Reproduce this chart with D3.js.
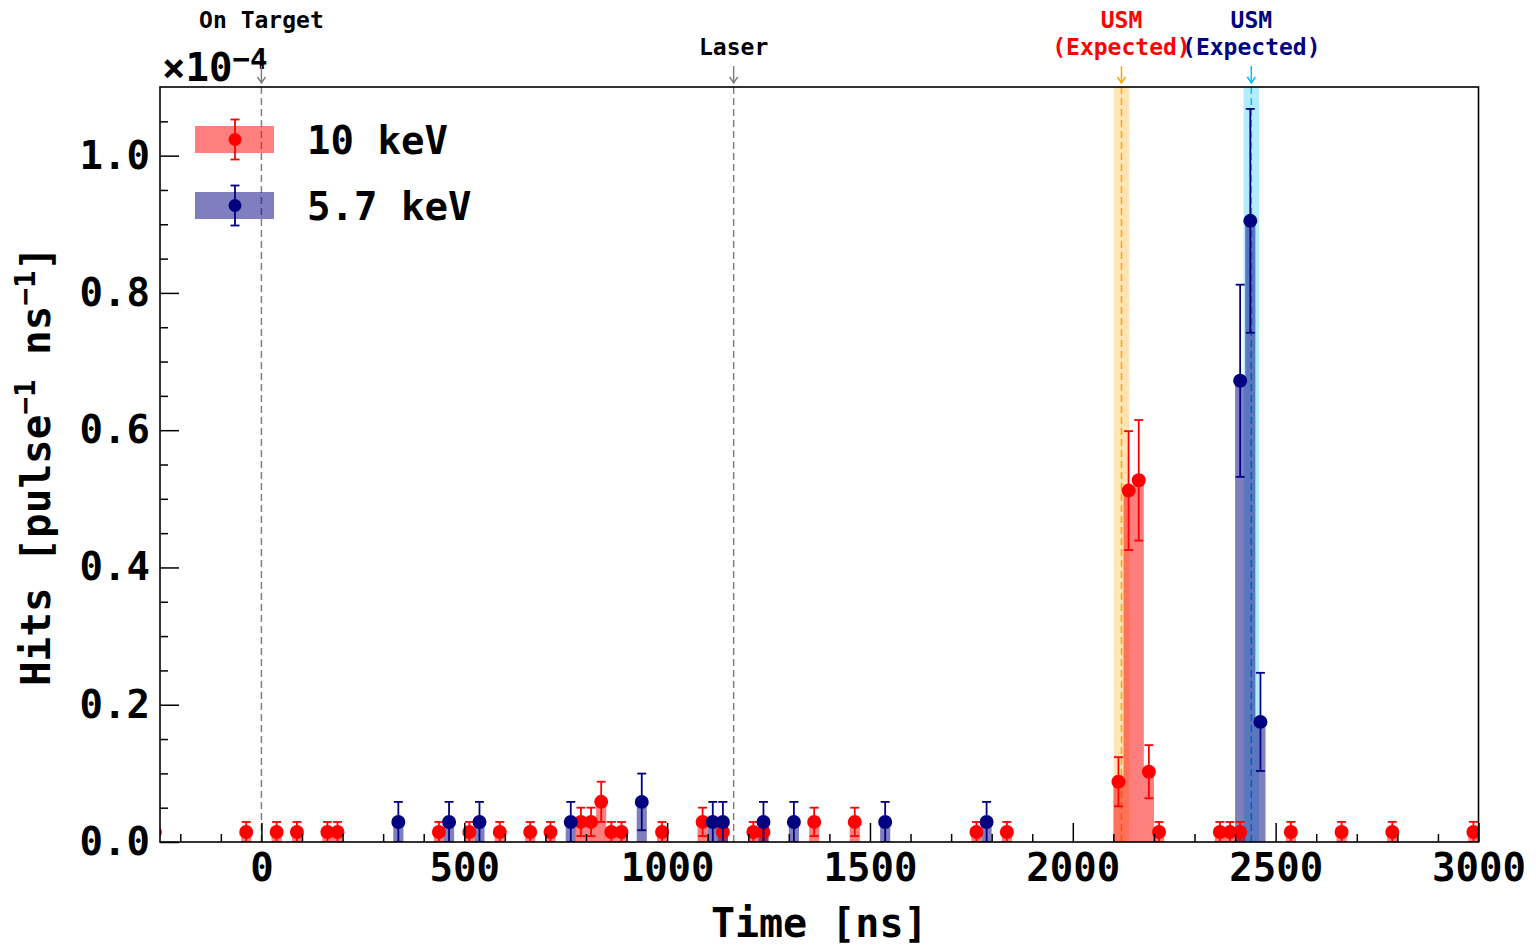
<!DOCTYPE html>
<html>
<head>
<meta charset="utf-8">
<script src="https://cdn.jsdelivr.net/npm/d3@7/dist/d3.min.js"></script>
<style>
body { margin: 0; background: #fff; }
svg { display: block; }
text { font-family: "DejaVu Sans Mono", monospace; font-weight: bold; }
</style>
</head>
<body>
<div id="chart"></div>
<script>
// bin centres [ns], rates in units of 1e-4 hits / pulse / ns
var redTimes = [-262.5, -37.5, 37.5, 87.5, 162.5, 187.5, 437.5, 512.5, 587.5, 662.5, 712.5,
    787.5, 812.5, 837.5, 862.5, 887.5, 987.5, 1087.5, 1137.5, 1212.5, 1237.5, 1362.5, 1462.5,
    1762.5, 1837.5, 2112.5, 2137.5, 2162.5, 2187.5, 2212.5, 2362.5, 2387.5, 2412.5, 2537.5,
    2662.5, 2787.5, 2987.5];
var redValues = [0.0146, 0.0146, 0.0146, 0.0146, 0.0146, 0.0146, 0.0146, 0.0146, 0.0146, 0.0146, 0.0146,
    0.0293, 0.0293, 0.0585, 0.0146, 0.0146, 0.0146, 0.0293, 0.0146, 0.0146, 0.0146, 0.0293, 0.0293,
    0.0146, 0.0146, 0.0878, 0.512, 0.527, 0.1024, 0.0146, 0.0146, 0.0146, 0.0146, 0.0146,
    0.0146, 0.0146, 0.0146];
var redErrors = [0.0146, 0.0146, 0.0146, 0.0146, 0.0146, 0.0146, 0.0146, 0.0146, 0.0146, 0.0146, 0.0146,
    0.0207, 0.0207, 0.0293, 0.0146, 0.0146, 0.0146, 0.0207, 0.0146, 0.0146, 0.0146, 0.0207, 0.0207,
    0.0146, 0.0146, 0.0358, 0.0866, 0.0878, 0.0387, 0.0146, 0.0146, 0.0146, 0.0146, 0.0146,
    0.0146, 0.0146, 0.0146];

var blueTimes = [337.5, 462.5, 537.5, 762.5, 937.5, 1112.5, 1137.5, 1237.5, 1312.5, 1537.5,
    1787.5, 2412.5, 2437.5, 2462.5];
var blueValues = [0.0292, 0.0292, 0.0292, 0.0292, 0.0584, 0.0292, 0.0292, 0.0292, 0.0292, 0.0292,
    0.0292, 0.672, 0.905, 0.175];
var blueErrors = [0.0292, 0.0292, 0.0292, 0.0292, 0.0413, 0.0292, 0.0292, 0.0292, 0.0292, 0.0292,
    0.0292, 0.140, 0.163, 0.0715];

var binWidth = 25;
var legendLabels = ['10 keV', '5.7 keV'];

var xTicks = [0, 500, 1000, 1500, 2000, 2500, 3000];
var yTicks = [0, 0.2, 0.4, 0.6, 0.8, 1.0];

// vertical reference markers above the frame
var markTimes = [0, 1164, 2120, 2440];
var markLines = [['On Target'], ['Laser'], ['USM', '(Expected)'], ['USM', '(Expected)']];
var markRows = [0, 1, 0, 0];
// expected USM windows
var bandTimes = [2120, 2440];
var bandHalf = 19;

var W = 1536, H = 945;
var margin = {left: 160, top: 87};
var width = 1318.5, height = 755;

var x = d3.scaleLinear().domain([-250, 3000]).range([0, width]);
var y = d3.scaleLinear().domain([0, 1.1]).range([height, 0]);

var svg = d3.select('#chart').append('svg')
    .attr('width', W)
    .attr('height', H);

svg.append('defs').append('clipPath').attr('id', 'clip')
    .append('rect').attr('width', width).attr('height', height);

var g = svg.append('g')
    .attr('transform', 'translate(' + margin.left + ',' + margin.top + ')');

var plot = g.append('g').attr('clip-path', 'url(#clip)');

// shaded expected windows
var bandFill = ['#ffe4b3', '#b3ecff'];
bandTimes.forEach(function (t, i) {
    plot.append('rect')
        .attr('x', x(t - bandHalf))
        .attr('width', x(t + bandHalf) - x(t - bandHalf))
        .attr('y', 0)
        .attr('height', height)
        .attr('fill', bandFill[i]);
});

// dashed marker lines
var dashColor = ['gray', 'gray', 'orange', 'deepskyblue'];
markTimes.forEach(function (t, i) {
    plot.append('line')
        .attr('x1', x(t)).attr('x2', x(t))
        .attr('y1', 0).attr('y2', height)
        .attr('stroke', dashColor[i])
        .attr('stroke-width', 1.5)
        .attr('stroke-dasharray', '7,4');
});

// histogram bars, one path per series so neighbours have no seams
function barPath(times, values) {
    var p = d3.path();
    times.forEach(function (t, i) {
        var x0 = x(t - binWidth / 2), x1 = x(t + binWidth / 2);
        p.moveTo(x0, y(0));
        p.lineTo(x0, y(values[i]));
        p.lineTo(x1, y(values[i]));
        p.lineTo(x1, y(0));
        p.closePath();
    });
    return p.toString();
}
plot.append('path').attr('d', barPath(redTimes, redValues))
    .attr('fill', 'red').attr('fill-opacity', 0.5);
plot.append('path').attr('d', barPath(blueTimes, blueValues))
    .attr('fill', 'navy').attr('fill-opacity', 0.5);

// error bars + markers
function drawPoints(times, values, errors, color) {
    var pts = plot.append('g').selectAll('g')
        .data(times.map(function (t, i) { return {t: t, v: values[i], e: errors[i]}; }))
        .join('g')
        .attr('stroke', color)
        .attr('stroke-width', 1.8);
    pts.append('line')
        .attr('x1', function (d) { return x(d.t); })
        .attr('x2', function (d) { return x(d.t); })
        .attr('y1', function (d) { return y(Math.max(0, d.v - d.e)); })
        .attr('y2', function (d) { return y(d.v + d.e); });
    [-1, 1].forEach(function (s) {
        pts.append('line')
            .attr('x1', function (d) { return x(d.t) - 4.5; })
            .attr('x2', function (d) { return x(d.t) + 4.5; })
            .attr('y1', function (d) { return y(Math.max(0, d.v + s * d.e)); })
            .attr('y2', function (d) { return y(Math.max(0, d.v + s * d.e)); });
    });
    pts.append('circle')
        .attr('cx', function (d) { return x(d.t); })
        .attr('cy', function (d) { return y(d.v); })
        .attr('r', 7)
        .attr('fill', color)
        .attr('stroke', 'none');
}
drawPoints(redTimes, redValues, redErrors, 'red');
drawPoints(blueTimes, blueValues, blueErrors, 'navy');

// axes: ticks pointing inward
var xAxis = d3.axisBottom(x).tickValues(xTicks).tickSize(-19).tickPadding(11)
    .tickFormat(d3.format('d'));
var xMinor = d3.axisBottom(x)
    .tickValues(d3.range(-200, 3000, 100).filter(function (d) { return d % 500 !== 0; }))
    .tickSize(-8).tickFormat('');
var yAxis = d3.axisLeft(y).tickValues(yTicks).tickSize(-19).tickPadding(10)
    .tickFormat(d3.format('.1f'));
var yMinor = d3.axisLeft(y)
    .tickValues(d3.range(0.05, 1.1, 0.05).filter(function (d) { return Math.abs(d / 0.2 - Math.round(d / 0.2)) > 1e-6; }))
    .tickSize(-8).tickFormat('');

[[xAxis, 'translate(0,' + height + ')'], [xMinor, 'translate(0,' + height + ')'],
    [yAxis, null], [yMinor, null]].forEach(function (a) {
    var ax = g.append('g').attr('transform', a[1]).call(a[0]);
    ax.select('.domain').remove();
    ax.selectAll('line').attr('stroke', '#000').attr('stroke-width', 1.5);
    ax.selectAll('text').style('font-size', '39px').attr('fill', '#000');
});

// frame
g.append('rect')
    .attr('width', width).attr('height', height)
    .attr('fill', 'none').attr('stroke', '#000').attr('stroke-width', 1.6);

// axis titles
svg.append('text')
    .attr('x', margin.left + width / 2).attr('y', 937)
    .attr('text-anchor', 'middle')
    .style('font-size', '40px')
    .text('Time [ns]');

var yl = svg.append('text')
    .attr('transform', 'translate(50,466) rotate(-90)')
    .attr('text-anchor', 'middle')
    .style('font-size', '41px');
yl.append('tspan').text('Hits [pulse');
yl.append('tspan').attr('dy', -15).style('font-size', '29px').text('\u22121');
yl.append('tspan').attr('dy', 15).text(' ns');
yl.append('tspan').attr('dy', -15).style('font-size', '29px').text('\u22121');
yl.append('tspan').attr('dy', 15).text(']');

// offset text
var off = svg.append('text').attr('x', 162).attr('y', 81).style('font-size', '39px');
off.append('tspan').text('\u00d710');
off.append('tspan').attr('dy', -12).style('font-size', '29px').text('\u22124');

// annotations above the frame
var markText = ['#000', '#000', 'red', 'navy'];
markTimes.forEach(function (t, i) {
    var px = margin.left + x(t);
    var row0 = markRows[i];
    markLines[i].forEach(function (s, j) {
        svg.append('text')
            .attr('x', px).attr('y', 28 + 27 * (row0 + j))
            .attr('text-anchor', 'middle')
            .attr('fill', markText[i])
            .style('font-size', '23px')
            .text(s);
    });
    svg.append('line')
        .attr('x1', px).attr('x2', px).attr('y1', 66).attr('y2', 83)
        .attr('stroke', dashColor[i]).attr('stroke-width', 1.5);
    svg.append('polyline')
        .attr('points', [[px - 4, 77], [px, 83], [px + 4, 77]].join(' '))
        .attr('fill', 'none')
        .attr('stroke', dashColor[i]).attr('stroke-width', 1.5);
});

// legend
var legColor = ['red', 'navy'];
legendLabels.forEach(function (lab, i) {
    var cy = 139.5 + 66 * i;
    var lg = svg.append('g');
    lg.append('rect')
        .attr('x', 195).attr('y', cy - 13.5).attr('width', 79).attr('height', 27)
        .attr('fill', legColor[i]).attr('fill-opacity', 0.5);
    lg.append('line')
        .attr('x1', 235).attr('x2', 235).attr('y1', cy - 20).attr('y2', cy + 20)
        .attr('stroke', legColor[i]).attr('stroke-width', 1.8);
    [-20, 20].forEach(function (dy) {
        lg.append('line')
            .attr('x1', 230.5).attr('x2', 239.5).attr('y1', cy + dy).attr('y2', cy + dy)
            .attr('stroke', legColor[i]).attr('stroke-width', 1.8);
    });
    lg.append('circle').attr('cx', 235).attr('cy', cy).attr('r', 6.5).attr('fill', legColor[i]);
    lg.append('text')
        .attr('x', 307).attr('y', cy + 14)
        .style('font-size', '39px')
        .text(lab);
});
</script>
</body>
</html>
